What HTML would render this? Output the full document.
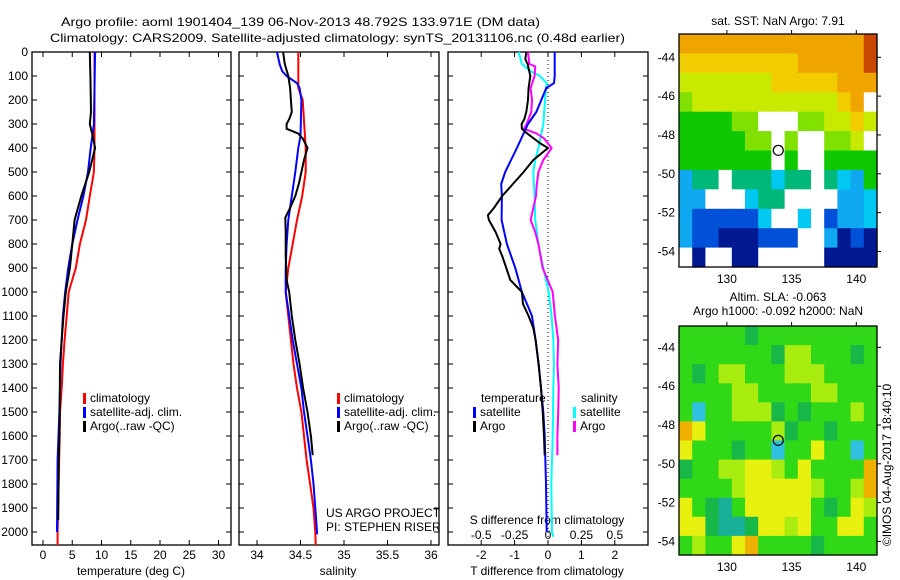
<!DOCTYPE html>
<html><head><meta charset="utf-8"><style>
body{margin:0;background:#fff}
svg{display:block;font-family:"Liberation Sans",sans-serif}
text{fill:#000;font-size:12px}
</style></head><body>
<svg id="fig" width="900" height="580" viewBox="0 0 900 580" xmlns="http://www.w3.org/2000/svg">
<text x="61" y="26" font-size="13" textLength="479" lengthAdjust="spacingAndGlyphs">Argo profile: aoml 1901404_139 06-Nov-2013 48.792S 133.971E (DM data)</text>
<text x="50" y="42" font-size="13" textLength="575" lengthAdjust="spacingAndGlyphs">Climatology: CARS2009. Satellite-adjusted climatology: synTS_20131106.nc (0.48d earlier)</text>
<g id="g1"></g>
<g id="g2"></g>
<g id="g3"></g>
<g id="m1"></g>
<g id="m2"></g>
<text x="778" y="25" text-anchor="middle">sat. SST: NaN Argo: 7.91</text>
<text x="778" y="301" text-anchor="middle">Altim. SLA: -0.063</text>
<text x="778" y="315" text-anchor="middle">Argo h1000: -0.092 h2000: NaN</text>
<text transform="translate(891,465) rotate(-90)" text-anchor="middle">©IMOS 04-Aug-2017 18:40:10</text>
<text x="326" y="517">US ARGO PROJECT</text>
<text x="326" y="531">PI: STEPHEN RISER</text>
</svg>
<script>
// ---- data ----
const depthTicks=[0,100,200,300,400,500,600,700,800,900,1000,1100,1200,1300,1400,1500,1600,1700,1800,1900,2000];
const tempTicks=[0,5,10,15,20,25,30];
const salTicks=[34,34.5,35,35.5,36];
const tdiffTicks=[-2,-1,0,1,2];
const sdiffTicks=[-0.5,-0.25,0,0.25,0.5];
const sdiffLabels=["-0.5","-0.25","0","0.25","0.5"];
const tClimD=[0,400,500,600,700,800,900,1000,1100,1200,1300,1400,1500,1600,1700,2000,2054];
const tClimV=[8.8,8.8,8.7,8.0,7.35,6.3,5.6,4.4,4.05,3.7,3.4,3.2,2.9,2.85,2.75,2.5,2.5];
const tSatD=[0,300,400,500,600,700,800,900,1000,1100,1200,1300,1400,1500,1700,2000];
const tSatV=[8.9,8.7,8.15,7.7,6.9,5.9,5.0,4.3,3.8,3.4,3.2,3.0,2.9,2.8,2.5,2.4];
const tArgoD=[0,100,250,300,350,400,500,600,700,800,900,1000,1100,1200,1300,1500,1600,1700,1950];
const tArgoV=[8.0,8.1,8.2,8.0,8.5,8.9,7.9,6.55,5.4,5.0,4.6,3.9,3.5,3.2,2.9,2.85,2.8,2.7,2.6];
const sClimD=[0,150,200,400,500,600,700,800,900,1000,1100,1200,1300,1400,1500,1600,1700,1800,1900,2000,2054];
const sClimV=[34.475,34.475,34.525,34.56,34.56,34.52,34.46,34.41,34.36,34.33,34.36,34.39,34.42,34.46,34.51,34.54,34.57,34.61,34.65,34.67,34.675];
const sSatD=[0,50,80,100,130,150,200,350,400,500,600,700,800,900,1000,1100,1200,1300,1400,1500,1600,1700,1800,1900,2000,2010];
const sSatV=[34.23,34.26,34.29,34.34,34.46,34.49,34.51,34.5,34.475,34.44,34.4,34.36,34.34,34.33,34.33,34.37,34.41,34.46,34.51,34.54,34.58,34.62,34.65,34.67,34.69,34.69];
const sArgoD=[0,50,100,150,200,250,280,300,320,340,360,400,450,500,550,600,650,690,750,850,950,1000,1100,1200,1300,1400,1500,1600,1680];
const sArgoV=[34.3,34.32,34.36,34.38,34.39,34.4,34.37,34.34,34.34,34.475,34.525,34.58,34.54,34.51,34.48,34.44,34.38,34.325,34.33,34.33,34.34,34.37,34.4,34.44,34.49,34.53,34.58,34.62,34.64];
const dtSatD=[0,100,130,150,200,250,300,400,500,550,600,700,800,900,1000,1050,1100,1200,1300,1400,1500,1600,1800,2000];
const dtSatV=[0.2,0.2,0.18,-0.05,-0.2,-0.35,-0.6,-0.93,-1.28,-1.4,-1.38,-1.39,-1.23,-0.98,-0.78,-0.63,-0.48,-0.37,-0.28,-0.21,-0.14,-0.1,-0.06,-0.04];
const dtArgoD=[0,30,50,100,150,200,250,280,300,320,340,380,400,450,500,550,600,650,680,700,750,800,820,850,900,950,1000,1050,1100,1150,1200,1300,1400,1500,1600,1680];
const dtArgoV=[-0.65,-0.68,-0.61,-0.53,-0.58,-0.6,-0.65,-0.71,-0.79,-0.78,-0.62,-0.24,0.0,-0.44,-0.73,-1.05,-1.37,-1.62,-1.8,-1.77,-1.57,-1.42,-1.46,-1.37,-1.25,-1.13,-0.78,-0.75,-0.58,-0.44,-0.37,-0.28,-0.21,-0.16,-0.12,-0.1];
const dsSatD=[0,50,80,100,130,150,200,300,400,450,500,600,700,800,900,1000,1100,1200,1300,1400,1600,1800,2000,2020];
const dsSatV=[-0.22,-0.195,-0.13,-0.06,-0.01,-0.015,-0.022,-0.035,-0.072,-0.096,-0.11,-0.1,-0.096,-0.072,-0.035,0.005,0.027,0.04,0.045,0.04,0.035,0.025,0.03,0.04];
const dsArgoD=[0,50,60,100,150,200,250,300,320,340,360,400,450,500,550,600,650,700,750,800,900,1000,1100,1200,1300,1400,1500,1600,1680];
const dsArgoV=[-0.15,-0.14,-0.096,-0.1,-0.13,-0.12,-0.125,-0.16,-0.18,-0.084,-0.03,0.027,-0.035,-0.072,-0.084,-0.09,-0.11,-0.13,-0.096,-0.072,-0.04,0.035,0.052,0.076,0.07,0.08,0.076,0.07,0.07];
const lonTicks=[130,135,140];
const latTicks=[-44,-46,-48,-50,-52,-54];
const sstRows=["ooooooooooooooO","YYYYYYYYYoooooO","yyyyyyyYYYYYooo","gyyyyyyyyyyyYow","GGGGggwwwggyyYy","GGGGGggwgwwggyw","GGGGGGGwGwwGGGG","bTTwTTTcTTwTcbG","bbwwwcTTwwwwbbc","bBBBBBcwwcwBbbc","bBBNNNBBBwwbNBN","wNwwNNwwwwwNNNN"];
const slaRows=["GGGGGDGGGGGGGGG","GGGGGGGDLLGGGDG","GDGLLGGGLLLGGGG","GGGGLLGGGGLLGGG","GCGGLLLDGDGGGLG","OYGGGGGLDGGDGGG","YGGGDGGCGGYGGCG","DGGLLYYLGYGGGGO","GGGGLYYYYYLGGLO","YGDTGYYYYYGDGYL","YYDTTDYYLYGGYYG","GLGGYOGGGGDGGGG"];
const argoLon=133.971, argoLat=-48.792;
// ---- helpers ----
const NS="http://www.w3.org/2000/svg";
function mk(parent,tag,attrs){const e=document.createElementNS(NS,tag);for(const k in attrs)e.setAttribute(k,attrs[k]);parent.appendChild(e);return e;}
const Y0=52,Y1=545;
const yD=d=>52+d*0.24;
function panel(g,x0,x1,name){
  const r=mk(g,'rect',{x:x0,y:Y0,width:x1-x0,height:Y1-Y0,fill:'none',stroke:'#000','stroke-width':1.3});
  
  
  depthTicks.forEach(d=>{
    const t1=mk(g,'line',{x1:x0,x2:x0+5,y1:yD(d),y2:yD(d),stroke:'#000'});
    
    
    const t2=mk(g,'line',{x1:x1-5,x2:x1,y1:yD(d),y2:yD(d),stroke:'#000'});
    
    
  });
}
function xticks(g,ticks,labels,fx,yl){
  ticks.forEach((v,i)=>{
    const x=fx(v);
    const a=mk(g,'line',{x1:x,x2:x,y1:Y1,y2:Y1-5,stroke:'#000'});
    
    
    const b=mk(g,'line',{x1:x,x2:x,y1:Y0,y2:Y0+5,stroke:'#000'});
    
    
    const t=mk(g,'text',{x:x,y:yl,'text-anchor':'middle'});t.textContent=labels[i];
    
    
  });
}
function line(g,ds,vs,fx,col,name,w){
  const p=ds.map((d,i)=>fx(vs[i]).toFixed(1)+','+yD(d).toFixed(1)).join(' ');
  const e=mk(g,'polyline',{points:p,fill:'none',stroke:col,'stroke-width':w||2,'stroke-linejoin':'round'});
  
  
}
function legend(g,x,y,col,label,name){
  const r=mk(g,'rect',{x:x,y:y-5,width:3,height:11,fill:col});
  
  
  const t=mk(g,'text',{x:x+7,y:y+4});t.textContent=label;
  
  
}
function txt(g,x,y,s,name,anchor){const t=mk(g,'text',{x:x,y:y,'text-anchor':anchor||'start'});t.textContent=s;
  
  }
// panel 1
const g1=document.getElementById('g1');
const fT=v=>43+v*5.85;
panel(g1,32,231,'temperature-panel');
depthTicks.forEach(d=>{const t=mk(g1,'text',{x:28,y:yD(d)+4,'text-anchor':'end'});t.textContent=d;
  
  });
xticks(g1,tempTicks,tempTicks.map(String),fT,559);
txt(g1,131,575,'temperature (deg C)','temperature-axis-title','middle');
line(g1,tClimD,tClimV,fT,'#f00','temp-climatology-line');
line(g1,tSatD,tSatV,fT,'#00f','temp-satellite-line');
line(g1,tArgoD,tArgoV,fT,'#000','temp-argo-line');
legend(g1,83,398,'#f00','climatology','legend-climatology');
legend(g1,83,412,'#00f','satellite-adj. clim.','legend-satellite');
legend(g1,83,426,'#000','Argo(..raw -QC)','legend-argo');
// panel 2
const g2=document.getElementById('g2');
const fS=v=>257+(v-34)*87;
panel(g2,239,439,'salinity-panel');
xticks(g2,salTicks,["34","34.5","35","35.5","36"],fS,559);
txt(g2,338,575,'salinity','salinity-axis-title','middle');
line(g2,sClimD,sClimV,fS,'#f00','sal-climatology-line');
line(g2,sSatD,sSatV,fS,'#00f','sal-satellite-line');
line(g2,sArgoD,sArgoV,fS,'#000','sal-argo-line');
legend(g2,337,398,'#f00','climatology','legend-climatology');
legend(g2,337,412,'#00f','satellite-adj. clim.','legend-satellite');
legend(g2,337,426,'#000','Argo(..raw -QC)','legend-argo');
// panel 3
const g3=document.getElementById('g3');
const fDT=v=>548+v*33.4;
const fDS=v=>548+v*133.6;
panel(g3,448,648,'difference-panel');
xticks(g3,tdiffTicks,["-2","-1","0","1","2"],fDT,559);
sdiffTicks.forEach((v,i)=>txt(g3,fDS(v),539,sdiffLabels[i],'s-diff-tick-label','middle'));
txt(g3,547,524,'S difference from climatology','s-diff-axis-title','middle');
txt(g3,547,575,'T difference from climatology','t-diff-axis-title','middle');
const z=mk(g3,'line',{x1:fDT(0),x2:fDT(0),y1:Y0,y2:Y1,stroke:'#000','stroke-dasharray':'1,3'});


line(g3,dsSatD,dsSatV,fDS,'#0ff','sdiff-satellite-line');
line(g3,dsArgoD,dsArgoV,fDS,'#f0f','sdiff-argo-line');
line(g3,dtSatD,dtSatV,fDT,'#00f','tdiff-satellite-line');
line(g3,dtArgoD,dtArgoV,fDT,'#000','tdiff-argo-line');
txt(g3,481,402,'temperature','legend-temperature-heading');
legend(g3,473,412,'#00f','satellite','legend-t-satellite');
legend(g3,473,426,'#000','Argo','legend-t-argo');
txt(g3,581,402,'salinity','legend-salinity-heading');
legend(g3,573,412,'#0ff','satellite','legend-s-satellite');
legend(g3,573,426,'#f0f','Argo','legend-s-argo');
// maps
const sstCol={O:'#c84800',o:'#f0a400',Y:'#f0cc00',y:'#c8ea00',g:'#80e000',G:'#10c800',T:'#00b878',c:'#00c8f0',b:'#10a8f0',B:'#0050d8',N:'#001890',w:'#ffffff'};
const slaCol={G:'#30d818',D:'#18b848',L:'#a8ec10',Y:'#e8f010',O:'#f0b000',C:'#30c0e0',T:'#18b098'};
function map(id,rows,cols,top,bot,latTop,latBot,name){
  const g=document.getElementById(id);
  const L=679,R=877,lon0=126.3,lon1=141.6;
  const fx=v=>L+(v-lon0)/(lon1-lon0)*(R-L);
  const fy=v=>top+(latTop-v)/(latTop-latBot)*(bot-top);
  const nr=rows.length,nc=rows[0].length,cw=(R-L)/nc,ch=(bot-top)/nr;
  rows.forEach((row,j)=>{for(let i=0;i<nc;i++){
    const c=mk(g,'rect',{x:(L+i*cw).toFixed(1),y:(top+j*ch).toFixed(1),width:(cw+0.6).toFixed(1),height:(ch+0.6).toFixed(1),fill:cols[row[i]]});
    
    
  }});
  const f=mk(g,'rect',{x:L,y:top,width:R-L,height:bot-top,fill:'none',stroke:'#000','stroke-width':1.3});
  
  
  lonTicks.forEach(v=>{
    const a=mk(g,'line',{x1:fx(v),x2:fx(v),y1:top,y2:top-4,stroke:'#000'});
    
    
    txt(g,fx(v),bot+16,String(v),'lon-label','middle');
  });
  latTicks.forEach(v=>{
    const a=mk(g,'line',{x1:R,x2:R+4,y1:fy(v),y2:fy(v),stroke:'#000'});
    
    
    txt(g,675,fy(v)+4,String(v),'lat-label','end');
  });
  const c=mk(g,'circle',{cx:fx(argoLon),cy:fy(argoLat),r:5,fill:'none',stroke:'#000','stroke-width':1.2});
  
  
}
map('m1',sstRows,sstCol,34,267,-42.8,-54.8,'sst-map');
map('m2',slaRows,slaCol,326,555,-42.9,-54.7,'sla-map');
</script>
</body></html>
